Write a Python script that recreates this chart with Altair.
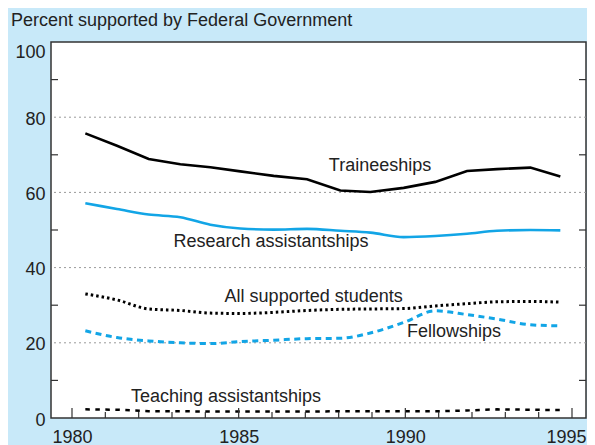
import altair as alt
import pandas as pd

# ---- data ----
years = [1980.4, 1981.35, 1982.3, 1983.25, 1984.15, 1985.05, 1986.05, 1987.05,
         1988.05, 1988.95, 1989.95, 1990.9, 1991.85, 1992.75, 1993.75, 1994.65]
traineeships = [75.7, 72.4, 68.9, 67.5, 66.7, 65.6, 64.4, 63.5,
                60.5, 60.1, 61.2, 62.8, 65.7, 66.2, 66.6, 64.2]
research = [57.1, 55.6, 54.1, 53.4, 51.4, 50.4, 50.1, 50.3,
            49.8, 49.3, 48.1, 48.4, 49.0, 49.8, 50.0, 49.9]
all_supported = [33.0, 31.4, 29.0, 28.6, 27.9, 27.8, 28.1, 28.6,
                 28.9, 29.0, 29.1, 29.8, 30.4, 30.9, 31.0, 30.8]
fellowships = [23.2, 21.4, 20.5, 20.0, 19.8, 20.3, 20.7, 21.1,
               21.2, 22.6, 25.4, 28.5, 27.5, 26.3, 24.8, 24.5]
teaching = [2.3, 2.2, 1.8, 1.8, 1.7, 1.7, 1.7, 1.7,
            1.8, 1.8, 1.8, 1.8, 2.0, 2.3, 2.2, 2.1]

y_ticks = [0, 20, 40, 60, 80, 100]
y_grid = [20, 40, 60, 80]
y_minor = [10, 30, 50, 70, 90]
x_major = [1980, 1985, 1990, 1995]
x_minor = [1981, 1982, 1983, 1984, 1986, 1987, 1988, 1989,
           1991, 1992, 1993, 1994]

title_text = "Percent supported by Federal Government"
label_text = ["Traineeships", "Research assistantships", "All supported students",
              "Fellowships", "Teaching assistantships"]
label_x = [1989.24, 1985.97, 1987.25, 1991.46, 1984.62]
label_y = [67.0, 46.9, 32.3, 23.0, 5.7]

W, H = 535, 376
BLUE = "#12a5e6"
FONT = "Liberation Sans"
TXT = "#222222"

xscale = alt.Scale(domain=[1979.37, 1995.42], nice=False, zero=False)
yscale = alt.Scale(domain=[0, 100], nice=False, zero=False)

def series_df(vals):
    return pd.DataFrame({"year": years, "value": vals})

X = alt.X("year:Q", scale=xscale,
          axis=alt.Axis(values=x_major, format="d", title=None, grid=False,
                        ticks=False, domain=False, labelFont=FONT,
                        labelFontSize=18, labelColor=TXT, labelPadding=10,
                        labelFlush=False, labelOverlap=False,
                        labelOffset=alt.expr("datum.value == 1995 ? -6 : 0")))
Y = alt.Y("value:Q", scale=yscale,
          axis=alt.Axis(values=y_ticks, title=None, grid=False, ticks=False,
                        domain=False, labelFont=FONT, labelFontSize=18,
                        labelColor=TXT, labelPadding=6, labelFlush=False,
                        labelOverlap=False,
                        labelBaseline=alt.expr("datum.value == 100 ? 'top' : 'middle'"),
                        labelOffset=alt.expr("datum.value == 100 ? 1 : 2")))

grid = alt.Chart(pd.DataFrame({"g": y_grid})).mark_rule(
    color="#9a9a9a", strokeWidth=1, strokeDash=[2, 3]
).encode(y=alt.Y("g:Q", scale=yscale))

ytick_l = alt.Chart(pd.DataFrame({"t": y_minor})).mark_rule(
    color="#333333", strokeWidth=1.2
).encode(y=alt.Y("t:Q", scale=yscale), x=alt.value(0), x2=alt.value(7))
ytick_r = alt.Chart(pd.DataFrame({"t": y_minor})).mark_rule(
    color="#333333", strokeWidth=1.2
).encode(y=alt.Y("t:Q", scale=yscale), x=alt.value(W - 7), x2=alt.value(W))
xtick_maj = alt.Chart(pd.DataFrame({"t": x_major})).mark_rule(
    color="#333333", strokeWidth=1.2
).encode(x=alt.X("t:Q", scale=xscale), y=alt.value(H - 10), y2=alt.value(H))
xtick_min = alt.Chart(pd.DataFrame({"t": x_minor})).mark_rule(
    color="#333333", strokeWidth=1.2
).encode(x=alt.X("t:Q", scale=xscale), y=alt.value(H - 6), y2=alt.value(H))

def line(vals, color, dash=None, interp="linear", width=2.6):
    kw = dict(color=color, strokeWidth=width, interpolate=interp, clip=True)
    if dash:
        kw["strokeDash"] = dash
    return alt.Chart(series_df(vals)).mark_line(**kw).encode(x=X, y=Y)

l_tr = line(traineeships, "#000000")
l_ra = line(research, BLUE, interp="monotone")
l_all = line(all_supported, "#000000", dash=[2.5, 3], interp="monotone", width=3)
l_fe = line(fellowships, BLUE, dash=[6, 4.5], interp="monotone", width=3)
l_ta = line(teaching, "#000000", dash=[4.5, 5.5], width=2.5)

labels = alt.Chart(pd.DataFrame({"x": label_x, "y": label_y, "t": label_text})).mark_text(
    font=FONT, fontSize=18, color=TXT, align="center", baseline="middle"
).encode(x=alt.X("x:Q", scale=xscale), y=alt.Y("y:Q", scale=yscale), text="t:N")

title = alt.Chart(pd.DataFrame({"t": [title_text]})).mark_text(
    font=FONT, fontSize=18, color=TXT, align="left", baseline="alphabetic"
).encode(x=alt.value(-40), y=alt.value(-16), text="t:N")

chart = alt.layer(
    grid, l_tr, l_ra, l_all, l_fe, l_ta, ytick_l, ytick_r, xtick_maj, xtick_min,
    labels, title
).properties(
    width=W, height=H,
    autosize=alt.AutoSizeParams(type="none"),
    padding={"left": 43, "top": 34, "right": 1, "bottom": 27},
).configure(
    background="#c8e9f9"
).configure_view(
    fill="white", stroke="#333333", strokeWidth=1.5
)

chart.save("out.html", embed_options={"renderer": "svg", "actions": False})
